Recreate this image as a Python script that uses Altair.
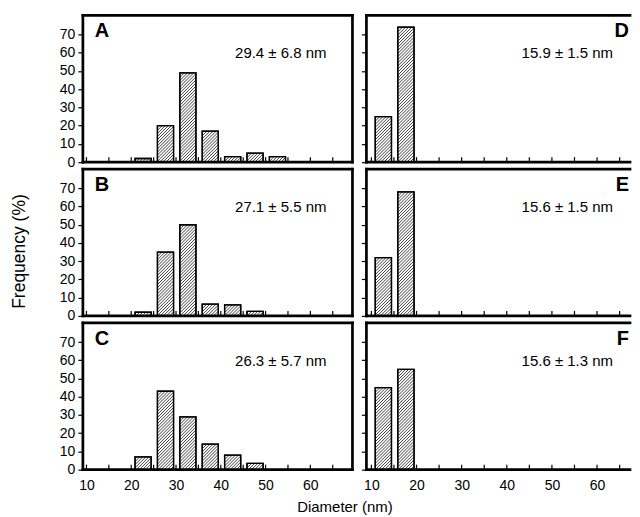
import altair as alt
import pandas as pd

# ---------------- data ----------------
letters = ["A", "B", "C", "D", "E", "F"]
stats = ["29.4 ± 6.8 nm", "27.1 ± 5.5 nm", "26.3 ± 5.7 nm",
         "15.9 ± 1.5 nm", "15.6 ± 1.5 nm", "15.6 ± 1.3 nm"]

bins_A = [20, 25, 30, 35, 40, 45, 50]
freq_A = [2, 20, 49, 17, 3, 5, 3]
bins_B = [20, 25, 30, 35, 40, 45]
freq_B = [2, 35, 50, 6.5, 6, 2.5]
bins_C = [20, 25, 30, 35, 40, 45]
freq_C = [7, 43, 29, 14, 8, 3.5]
bins_D = [10, 15]
freq_D = [25, 74]
bins_E = [10, 15]
freq_E = [32, 68]
bins_F = [10, 15]
freq_F = [45, 55]

y_ticks = [0, 10, 20, 30, 40, 50, 60, 70]
x_minor_ticks = [10, 15, 20, 25, 30, 35, 40, 45, 50, 55, 60, 65]
x_labels = [10, 20, 30, 40, 50, 60]

# ---------------- layout / style ----------------
W_L, W_R, H = 270, 264, 147
X_DOM_L = [9.2, 69.4]
X_DOM_R = [8.9, 67.3]
Y_DOM = [0, 80.5]
FONT = "Liberation Sans, Arial, Helvetica, sans-serif"
BAR_LO, BAR_HI = 0.85, 4.45   # bar occupies part of each 5-nm bin
FRAME_W = 2.7


def hatch_frame(bins, vals, W, xdom):
    """Diagonal (///) hatch segments clipped to each bar, in data units."""
    px_x = W / (xdom[1] - xdom[0])
    px_y = H / (Y_DOM[1] - Y_DOM[0])
    r = px_x / px_y
    step = 3.1 / px_x
    rows = []
    for b, v in zip(bins, vals):
        x0, x1 = b + BAR_LO, b + BAR_HI
        c = x0 - v / r + step / 2
        while c < x1:
            xs = max(x0, c)
            xe = min(x1, c + v / r)
            if xe - xs > 1e-6:
                rows.append({"xs": xs, "xe": xe, "ys": r * (xs - c), "ye": r * (xe - c)})
            c += step
    return pd.DataFrame(rows)


def frame_layers(W, sides):
    one = pd.DataFrame({"k": [0]})
    out = []
    for s in sides:
        m = alt.Chart(one).mark_rule(stroke="black", strokeWidth=FRAME_W, strokeCap="square")
        if s == "top":
            out.append(m.encode(x=alt.value(0), x2=alt.value(W), y=alt.value(0)))
        elif s == "bottom":
            out.append(m.encode(x=alt.value(0), x2=alt.value(W), y=alt.value(H)))
        elif s == "left":
            out.append(m.encode(x=alt.value(0), y=alt.value(0), y2=alt.value(H)))
        else:
            out.append(m.encode(x=alt.value(W), y=alt.value(0), y2=alt.value(H)))
    return out


def panel(idx, bins, vals, left, bottom):
    W = W_L if left else W_R
    xdom = X_DOM_L if left else X_DOM_R
    xs = alt.Scale(domain=xdom, nice=False, zero=False)
    ys = alt.Scale(domain=Y_DOM, nice=False, zero=False)

    if bottom:
        xaxis = alt.Axis(values=x_labels, ticks=False, domain=False, grid=False,
                         labelFont=FONT, labelFontSize=14, labelColor="black",
                         labelPadding=9,
                         title="Diameter (nm)" if left else None,
                         titleFont=FONT, titleFontSize=15, titleFontWeight="normal",
                         titleColor="black", titleX=262, titleY=30)
    else:
        xaxis = None

    yaxis = alt.Axis(values=y_ticks, tickSize=5, tickWidth=1.2, tickColor="black",
                     domain=False, grid=False, labels=left,
                     labelFont=FONT, labelFontSize=14, labelColor="black", labelPadding=3,
                     title="Frequency (%)" if (left and idx == 1) else None,
                     titleFont=FONT, titleFontSize=17.5, titleFontWeight="normal",
                     titleColor="black", titleX=-54, titleY=82)

    df = pd.DataFrame({"lo": [b + BAR_LO for b in bins],
                       "hi": [b + BAR_HI for b in bins],
                       "f": vals,
                       "base": [0] * len(bins)})
    bars = alt.Chart(df).mark_bar(fill="white", stroke="black", strokeWidth=1.3).encode(
        x=alt.X("lo:Q", scale=xs, axis=xaxis), x2="hi:Q",
        y=alt.Y("f:Q", scale=ys, axis=yaxis), y2="base:Q")

    hatch = alt.Chart(hatch_frame(bins, vals, W, xdom)).mark_rule(
        stroke="black", strokeWidth=0.75).encode(
        x=alt.X("xs:Q", scale=xs, axis=xaxis), x2="xe:Q",
        y=alt.Y("ys:Q", scale=ys, axis=yaxis), y2="ye:Q")

    outline = alt.Chart(df).mark_bar(fillOpacity=0, stroke="black", strokeWidth=1.3).encode(
        x=alt.X("lo:Q", scale=xs, axis=xaxis), x2="hi:Q",
        y=alt.Y("f:Q", scale=ys, axis=yaxis), y2="base:Q")

    ticks = alt.Chart(pd.DataFrame({"t": x_minor_ticks})).mark_rule(
        stroke="black", strokeWidth=1.2).encode(
        x=alt.X("t:Q", scale=xs, axis=xaxis), y=alt.value(H), y2=alt.value(H - 5))

    letter = alt.Chart(pd.DataFrame({"s": [letters[idx]]})).mark_text(
        font=FONT, fontSize=20, fontWeight="bold", color="black",
        align="left" if left else "right", baseline="alphabetic").encode(
        x=alt.value(12 if left else W - 1), y=alt.value(22), text="s:N")

    stat = alt.Chart(pd.DataFrame({"s": [stats[idx]]})).mark_text(
        font=FONT, fontSize=15, color="black", align="right", baseline="alphabetic").encode(
        x=alt.value(W - 26 if left else W - 17), y=alt.value(43), text="s:N")

    sides = ["top", "left", "bottom", "right"] if left else ["top", "left", "bottom"]
    layers = [bars, hatch, outline, ticks] + frame_layers(W, sides) + [letter, stat]
    return alt.layer(*layers).properties(width=W, height=H)


left_bins = [bins_A, bins_B, bins_C]
left_vals = [freq_A, freq_B, freq_C]
right_bins = [bins_D, bins_E, bins_F]
right_vals = [freq_D, freq_E, freq_F]

panels = []
for i in range(3):
    panels.append(panel(i, left_bins[i], left_vals[i], True, i == 2))
    panels.append(panel(i + 3, right_bins[i], right_vals[i], False, i == 2))

chart = alt.concat(*panels, columns=2, spacing={"row": 7, "column": 14},
                   bounds="flush").properties(
    padding={"left": 3, "top": 5, "right": 0, "bottom": 0},
    background="white",
).configure_view(strokeWidth=0, strokeOpacity=0)

chart.save("out.html", embed_options={"renderer": "svg", "actions": False})
